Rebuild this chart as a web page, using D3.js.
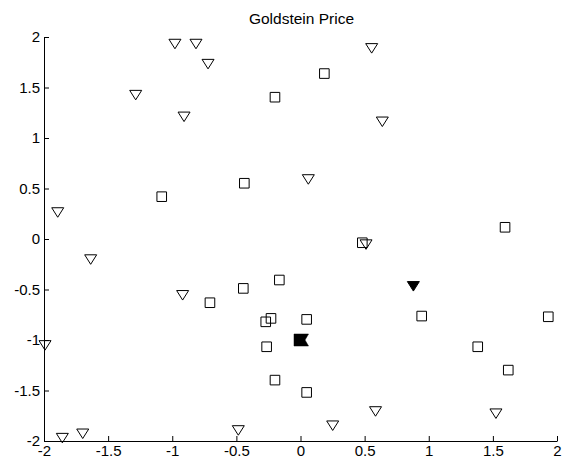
<!DOCTYPE html>
<html>
<head>
<meta charset="utf-8">
<script src="https://d3js.org/d3.v7.min.js"></script>
<style>
  html, body { margin: 0; padding: 0; background: #fff; }
  svg { display: block; font-family: "Liberation Sans", Arial, sans-serif; }
</style>
</head>
<body>
<svg id="chart" width="569" height="461"></svg>
<script>
// Sample points on the Goldstein-Price domain
const titleText = "Goldstein Price";
const xTicks = [-2, -1.5, -1, -0.5, 0, 0.5, 1, 1.5, 2];
const yTicks = [-2, -1.5, -1, -0.5, 0, 0.5, 1, 1.5, 2];

// open down-triangles
const triX = [-0.979, -0.815, -0.721, -1.285, -0.908, 0.555, 0.638, 0.061, -1.893, -1.636,
              -0.919, 0.511, -1.992, -1.857, -1.698, -0.485, 0.251, 0.585, 1.524];
const triY = [1.933, 1.933, 1.734, 1.427, 1.212, 1.890, 1.163, 0.592, 0.265, -0.201,
              -0.555, -0.053, -1.051, -1.969, -1.926, -1.893, -1.846, -1.705, -1.727];

// open squares
const sqX = [0.186, -0.199, -0.438, -1.082, 0.482, 1.595, -0.446, -0.165, -0.706, -0.230,
             -0.271, 0.048, 0.945, 1.932, 1.382, 1.620, -0.264, -0.199, 0.048];
const sqY = [1.638, 1.404, 0.552, 0.419, -0.037, 0.116, -0.489, -0.406, -0.631, -0.786,
             -0.820, -0.796, -0.763, -0.770, -1.067, -1.298, -1.067, -1.397, -1.519];

// best points (filled)
const bestTriX = [0.880];
const bestTriY = [-0.466];
const bestSqX = [0.0];
const bestSqY = [-1.0];

const svg = d3.select("#chart");
const x = d3.scaleLinear().domain([-2, 2]).range([44, 557]);
const y = d3.scaleLinear().domain([-2, 2]).range([441, 37]);

const fmt = d => String(d);

// x axis with inward ticks
const gx = svg.append("g").attr("transform", `translate(0,${y(-2)})`)
  .call(d3.axisBottom(x).tickValues(xTicks).tickFormat(fmt).tickSizeInner(-5).tickSizeOuter(0).tickPadding(8));
gx.select(".domain").attr("stroke", "#000");
gx.selectAll(".tick line").attr("stroke", "#000");
gx.selectAll(".tick text").attr("font-size", 15).attr("font-family", "Liberation Sans, Arial, sans-serif").attr("fill", "#000")
  .attr("dy", "0.71em").attr("y", 4.5);

// y axis with inward ticks
const gy = svg.append("g").attr("transform", `translate(${x(-2)},0)`)
  .call(d3.axisLeft(y).tickValues(yTicks).tickFormat(fmt).tickSizeInner(-5).tickSizeOuter(0).tickPadding(4));
gy.select(".domain").attr("stroke", "#000");
gy.selectAll(".tick line").attr("stroke", "#000");
gy.selectAll(".tick text").attr("font-size", 15).attr("font-family", "Liberation Sans, Arial, sans-serif").attr("fill", "#000")
  .attr("x", -4);

// title
svg.append("text")
  .attr("x", (x(-2) + x(2)) / 2 + 1)
  .attr("y", 24)
  .attr("text-anchor", "middle")
  .attr("font-size", 15.5)
  .attr("fill", "#000")
  .text(titleText);

const triPath = "M-6,-4.5L6,-4.5L0,5Z";
const sqPath = "M-4.8,-4.8H4.8V4.8H-4.8Z";
const bestSqPath = "M-6.5,-6L8,-6L4.5,0L8,6L-6.5,6Z";

svg.append("g").selectAll("path").data(d3.range(sqX.length)).join("path")
  .attr("d", sqPath)
  .attr("transform", i => `translate(${x(sqX[i])},${y(sqY[i])})`)
  .attr("fill", "none").attr("stroke", "#000").attr("stroke-width", 1);

svg.append("g").selectAll("path").data(d3.range(triX.length)).join("path")
  .attr("d", triPath)
  .attr("transform", i => `translate(${x(triX[i])},${y(triY[i])})`)
  .attr("fill", "none").attr("stroke", "#000").attr("stroke-width", 1);

svg.append("g").selectAll("path").data(d3.range(bestTriX.length)).join("path")
  .attr("d", triPath)
  .attr("transform", i => `translate(${x(bestTriX[i])},${y(bestTriY[i])})`)
  .attr("fill", "#000").attr("stroke", "#000").attr("stroke-width", 1);

svg.append("g").selectAll("path").data(d3.range(bestSqX.length)).join("path")
  .attr("d", bestSqPath)
  .attr("transform", i => `translate(${x(bestSqX[i])},${y(bestSqY[i])})`)
  .attr("fill", "#000").attr("stroke", "#000").attr("stroke-width", 0.5);
</script>
</body>
</html>
